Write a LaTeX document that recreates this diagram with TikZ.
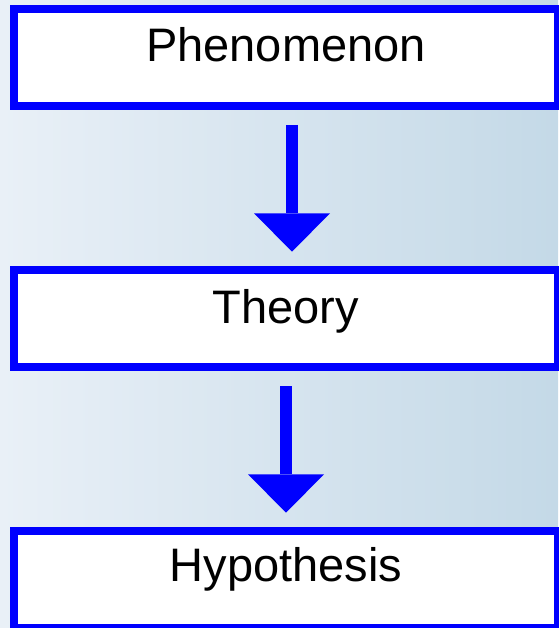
\documentclass[tikz,border=0pt]{standalone}
\usepackage{fontspec}
\setmainfont{Liberation Sans}
\usetikzlibrary{arrows.meta}
\definecolor{bgL}{HTML}{E9F0F7}
\definecolor{bgR}{HTML}{C4D9E7}
\definecolor{pureblue}{HTML}{0000FF}
\begin{document}
\begin{tikzpicture}[x=1pt,y=-1pt,
  stagebox/.style={draw=pureblue, line width=8pt, fill=white, rectangle,
    minimum width=544pt, inner sep=0pt, text height=30pt,
    font=\fontsize{47}{51}\selectfont},
  bigarrow/.style={draw=pureblue, line width=12pt,
    -{Triangle[length=38.4pt,width=76pt,line width=0pt]}}]
\useasboundingbox (0,0) rectangle (558,628);
\fill[left color=bgL, right color=bgR] (0,0) rectangle (558,628);
\node[stagebox, minimum height=96.7pt, text depth=21.3pt] (ph) at (286,57.35) {Phenomenon};
\node[stagebox, minimum height=97pt, text depth=21pt] (th) at (286,318.8) {Theory};
\node[stagebox, minimum height=96.7pt, text depth=26pt] (hy) at (286,579.65) {Hypothesis};
\draw[bigarrow, shorten <=15.3pt, shorten >=14.6pt] ([xshift=6pt]ph.south) -- ([xshift=6pt]th.north);
\draw[bigarrow, shorten <=14.7pt, shorten >=14.6pt] (th.south) -- (hy.north);
\end{tikzpicture}
\end{document}
